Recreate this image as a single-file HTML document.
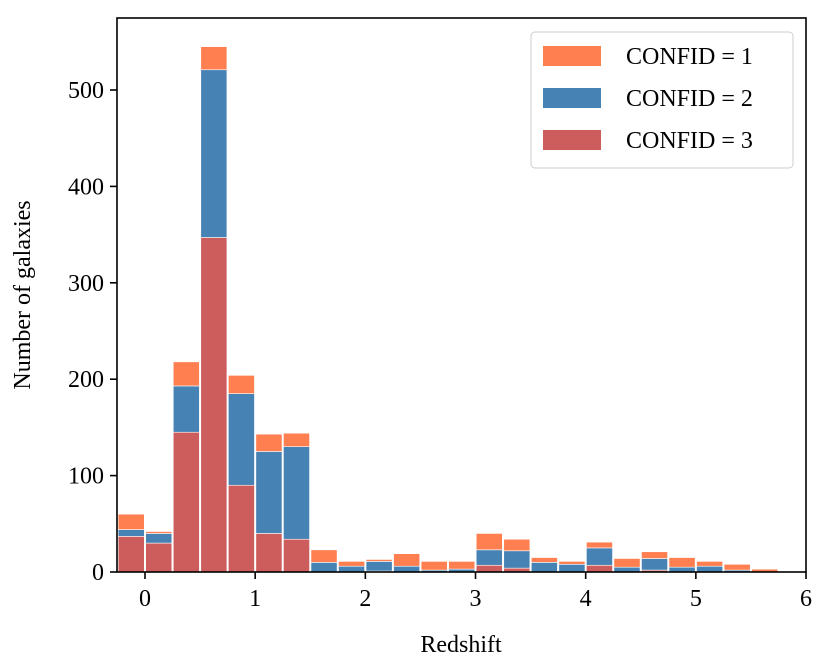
<!DOCTYPE html>
<html><head><meta charset="utf-8"><style>
body{margin:0;background:#fff;}
svg text{font-family:"Liberation Serif",serif;fill:#000;}
</style></head><body>
<svg id="chart" width="831" height="665" xmlns="http://www.w3.org/2000/svg">
<g id="bars"></g>
<rect x="117" y="18" width="689" height="554" fill="none" stroke="#000" stroke-width="1.6"/>
<g id="xticks"></g>
<g id="yticks"></g>
<text x="461" y="652" font-size="24" text-anchor="middle">Redshift</text>
<text transform="translate(30,295) rotate(-90)" font-size="24" text-anchor="middle">Number of galaxies</text>
<g>
<rect x="531" y="32" width="262" height="136" rx="4" fill="#fff" fill-opacity="0.8" stroke="#ccc"/>
<rect x="543" y="46" width="58" height="20" fill="#ff7f50"/>
<text x="626" y="64" font-size="24">CONFID = 1</text>
<rect x="543" y="88" width="58" height="20" fill="#4682b4"/>
<text x="626" y="106" font-size="24">CONFID = 2</text>
<rect x="543" y="130" width="58" height="20" fill="#cd5c5c"/>
<text x="626" y="148" font-size="24">CONFID = 3</text>
</g>
</svg>
<script>
const binStarts=[-0.25,0,0.25,0.5,0.75,1.0,1.25,1.5,1.75,2.0,2.25,2.5,2.75,3.0,3.25,3.5,3.75,4.0,4.25,4.5,4.75,5.0,5.25,5.5];
const confid3=[37,30,145,347,90,40,34,0,0,1,0,0,0,7,4,0,0,7,0,2,0,0,0,0];
const confid2=[7,10,48,174,95,85,96,10,6,10,6,2,3,16,18,10,8,18,5,12,5,6,2,0];
const confid1=[16,2,25,24,19,18,14,13,5,2,13,9,8,17,12,5,3,6,9,7,10,5,6,3];
const xTicks=[0,1,2,3,4,5,6];
const yTicks=[0,100,200,300,400,500];
const binWidth=0.25;
const NS="http://www.w3.org/2000/svg";
const X=v=>145+(v)*110.17;
const Y=v=>572-v*0.964;
const bars=document.getElementById('bars');
function rect(x0,x1,y0,y1,fill,name){
  const r=document.createElementNS(NS,'rect');
  r.setAttribute('x',X(x0)+0.7);r.setAttribute('width',X(x1)-X(x0)-1.4);
  r.setAttribute('y',Y(y1));r.setAttribute('height',Math.max(0,Y(y0)-Y(y1)));
  r.setAttribute('fill',fill);r.setAttribute('stroke','#fff');r.setAttribute('stroke-width','0.6');
  
  
  bars.appendChild(r);
}
binStarts.forEach((b,i)=>{
  const a=confid3[i],c=a+confid2[i],t=c+confid1[i];
  if(a>0)rect(b,b+binWidth,0,a,'#cd5c5c','bar-confid-3');
  if(confid2[i]>0)rect(b,b+binWidth,a,c,'#4682b4','bar-confid-2');
  if(confid1[i]>0)rect(b,b+binWidth,c,t,'#ff7f50','bar-confid-1');
});
const xt=document.getElementById('xticks');
xTicks.forEach(v=>{
  const l=document.createElementNS(NS,'line');
  l.setAttribute('x1',X(v));l.setAttribute('x2',X(v));l.setAttribute('y1',572);l.setAttribute('y2',579);
  l.setAttribute('stroke','#000');l.setAttribute('stroke-width','1.6');
  
  
  xt.appendChild(l);
  const t=document.createElementNS(NS,'text');
  t.setAttribute('x',X(v));t.setAttribute('y',606);t.setAttribute('font-size','24');t.setAttribute('text-anchor','middle');
  t.textContent=v;
  
  
  xt.appendChild(t);
});
const yt=document.getElementById('yticks');
yTicks.forEach(v=>{
  const l=document.createElementNS(NS,'line');
  l.setAttribute('x1',110);l.setAttribute('x2',117);l.setAttribute('y1',Y(v));l.setAttribute('y2',Y(v));
  l.setAttribute('stroke','#000');l.setAttribute('stroke-width','1.6');
  
  
  yt.appendChild(l);
  const t=document.createElementNS(NS,'text');
  t.setAttribute('x',104);t.setAttribute('y',Y(v)+8);t.setAttribute('font-size','24');t.setAttribute('text-anchor','end');
  t.textContent=v;
  
  
  yt.appendChild(t);
});
</script>
</body></html>
